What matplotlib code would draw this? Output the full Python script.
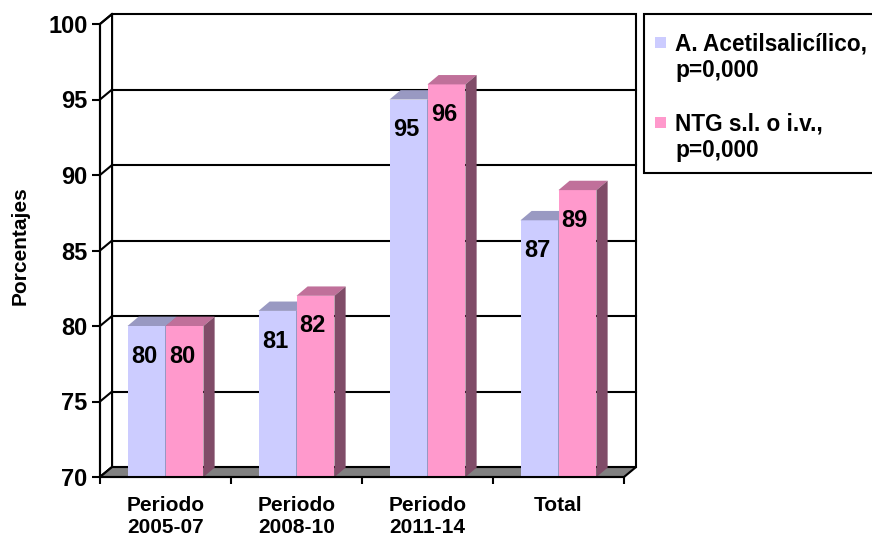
import matplotlib.pyplot as plt
from matplotlib.patches import Polygon, Rectangle

plt.rcParams['font.family'] = ['Liberation Sans', 'DejaVu Sans']
plt.rcParams['font.weight'] = 'bold'

categories = ["Periodo\n2005-07", "Periodo\n2008-10", "Periodo\n2011-14", "Total"]
aas_vals = [80, 81, 95, 87]
ntg_vals = [80, 82, 96, 89]
series_names = [("A. Acetilsalicílico,", "p=0,000"), ("NTG s.l. o i.v.,", "p=0,000")]
yticks = [70, 75, 80, 85, 90, 95, 100]

# colours: front, top, side
BLUE = ("#CCCCFF", "#9999C2", "#66668A")
PINK = ("#FF99CC", "#C0709A", "#804C68")

YMIN, YMAX = 70, 100
DX, DY = 0.092, 0.66      # depth of the walls
BDX, BDY = 0.085, 0.62    # depth of the bars
BW = 0.29


def box3d(ax, x0, w, top, cols):
    front = Rectangle((x0, YMIN), w, top - YMIN, facecolor=cols[0],
                      edgecolor="none", zorder=3, clip_on=False)
    ax.add_patch(front)
    ax.add_patch(Polygon([(x0, top), (x0 + BDX, top + BDY), (x0 + w + BDX, top + BDY),
                          (x0 + w, top)], closed=True, facecolor=cols[1],
                         edgecolor="none", zorder=3, clip_on=False))
    ax.add_patch(Polygon([(x0 + w, YMIN), (x0 + w, top), (x0 + w + BDX, top + BDY),
                          (x0 + w + BDX, YMIN + BDY)], closed=True, facecolor=cols[2],
                         edgecolor="none", zorder=3, clip_on=False))


fig = plt.figure(figsize=(8.72, 5.39), dpi=100)
ax = fig.add_axes([100 / 872, (539 - 477) / 539, 524 / 872, 453 / 539])
n = len(categories)
ax.set_xlim(0, n)
ax.set_ylim(YMIN, YMAX)

# back wall, left wall and floor
ax.add_patch(Rectangle((DX, YMIN + DY), n, YMAX - YMIN, facecolor="white",
                       edgecolor="black", lw=1.5, zorder=1, clip_on=False))
ax.add_patch(Polygon([(0, YMIN), (0, YMAX), (DX, YMAX + DY), (DX, YMIN + DY)], closed=True,
                     facecolor="white", edgecolor="black", lw=1.5, zorder=1, clip_on=False))
ax.add_patch(Polygon([(0, YMIN), (n, YMIN), (n + DX, YMIN + DY), (DX, YMIN + DY)], closed=True,
                     facecolor="#808080", edgecolor="black", lw=1.5, zorder=2, clip_on=False))
for v in yticks:
    ax.plot([0, DX], [v, v + DY], color="black", lw=1.5, zorder=1, clip_on=False)
    if YMIN < v < YMAX:
        ax.plot([DX, n + DX], [v + DY, v + DY], color="black", lw=1.5, zorder=1, clip_on=False)

for i in range(n):
    c = i + 0.5
    box3d(ax, c - BW, BW, aas_vals[i], BLUE)
    box3d(ax, c, BW, ntg_vals[i], PINK)
    ax.text(c - BW / 2 - 0.02, aas_vals[i] - 2.0, str(aas_vals[i]), ha="center", va="center",
            fontsize=17, fontweight="bold", zorder=5)
    ax.text(c + BW / 2 - 0.02, ntg_vals[i] - 2.0, str(ntg_vals[i]), ha="center", va="center",
            fontsize=17, fontweight="bold", zorder=5)

for s in ["top", "right"]:
    ax.spines[s].set_visible(False)
for s in ["left", "bottom"]:
    ax.spines[s].set_linewidth(1.5)
    ax.spines[s].set_zorder(4)

ax.set_yticks(yticks)
ax.set_yticklabels([str(v) for v in yticks], fontsize=17, fontweight="bold")
ax.tick_params(axis="y", length=6, width=1.5, pad=3)
ax.set_xticks(range(n + 1))
ax.set_xticklabels([])
ax.tick_params(axis="x", which="major", length=5, width=1.5)
ax.set_xticks([i + 0.5 for i in range(n)], minor=True)
ax.set_xticklabels(categories, minor=True, fontsize=15, fontweight="bold")
ax.tick_params(axis="x", which="minor", length=0, pad=14)

ax.set_ylabel("Porcentajes", fontsize=15, fontweight="bold")
ax.yaxis.set_label_coords(-0.134, 0.51)

# legend box
fig.patches.append(Rectangle((644 / 872, 1 - 173 / 539), 240 / 872, 159 / 539,
                             transform=fig.transFigure, facecolor="white",
                             edgecolor="black", lw=1.5))
for k, (cols, lines, base) in enumerate([(BLUE, series_names[0], 50),
                                          (PINK, series_names[1], 130)]):
    fig.patches.append(Rectangle((655 / 872, 1 - (base - 2) / 539), 11 / 872, 11 / 539,
                                 transform=fig.transFigure, facecolor=cols[0],
                                 edgecolor="none"))
    fig.text(675 / 872, 1 - base / 539, lines[0], fontsize=16.3, fontweight="bold",
             va="baseline", ha="left")
    fig.text(675 / 872, 1 - (base + 27) / 539, lines[1], fontsize=16.3, fontweight="bold",
             va="baseline", ha="left")

fig.savefig("out.png", dpi=100)
